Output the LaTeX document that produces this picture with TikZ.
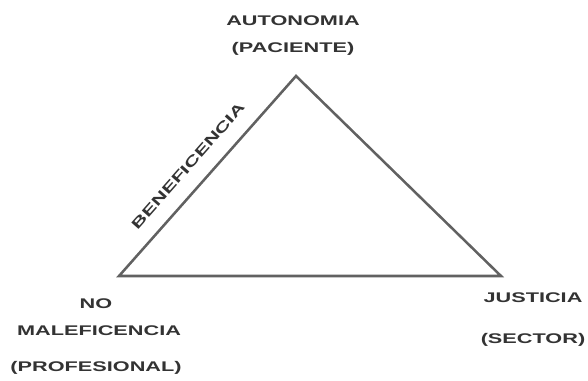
\documentclass[tikz,border=0pt]{standalone}
\usepackage{fontspec}
\setmainfont{Liberation Sans}
% wide lettering for the labels
\newcommand{\widetext}[1]{\scalebox{1.55}[1]{#1}}
\begin{document}
\begin{tikzpicture}[x=0.75pt,y=-0.75pt,font=\fontsize{10.5}{12}\selectfont\bfseries,
  label/.style={text=black!80,inner sep=1pt},
  side/.style={draw=black!62,line width=1.9pt,line join=miter}]
\useasboundingbox (0,0) rectangle (588,380);

\coordinate (aut) at (296,76);
\coordinate (nom) at (119,276);
\coordinate (jus) at (501,276);

\draw[side] (aut) -- (jus) -- (nom) -- cycle;

\node[label] (autA) at (293,21) {\widetext{AUTONOMIA}};
\node[label] (autB) at (293,49) {\widetext{(PACIENTE)}};

\node[label] (nomA) at (96,304) {\widetext{NO}};
\node[label] (nomB) at (99,331) {\widetext{MALEFICENCIA}};
\node[label] (nomC) at (96,368) {\widetext{(PROFESIONAL)}};

\node[label] (jusA) at (533,298) {\widetext{JUSTICIA}};
\node[label] (jusB) at (533,340) {\widetext{(SECTOR)}};

\path (nom) -- (aut)
node[label,pos=0.48,sloped,above=11pt] (ben) {\widetext{BENEFICENCIA}};
\end{tikzpicture}
\end{document}
